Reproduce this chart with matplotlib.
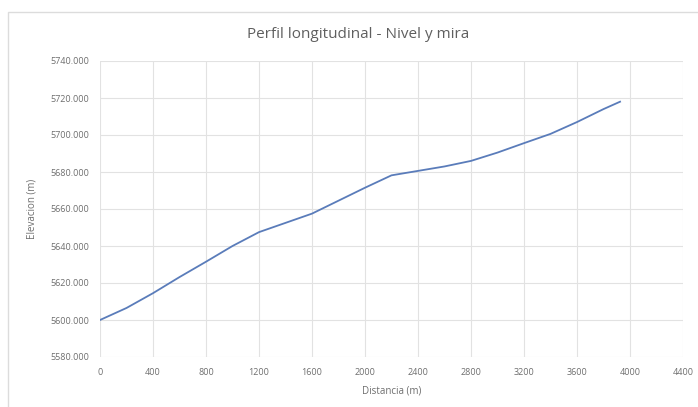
import matplotlib
matplotlib.use("Agg")
import matplotlib.pyplot as plt
from matplotlib.patches import Rectangle
from matplotlib.ticker import FuncFormatter, MultipleLocator

# Longitudinal profile surveyed with level and staff
distancia = [0, 200, 400, 600, 800, 1000, 1200, 1400, 1600, 1800, 2000,
             2200, 2400, 2600, 2800, 3000, 3200, 3400, 3600, 3800, 3925]
elevacion = [5600.0, 5606.5, 5614.5, 5623.2, 5631.5, 5640.0, 5647.5, 5652.5,
             5657.5, 5664.5, 5671.5, 5678.2, 5680.6, 5683.0, 5686.0, 5690.5,
             5695.6, 5700.6, 5707.0, 5714.0, 5718.0]

titulo = "Perfil longitudinal - Nivel y mira"
etiqueta_x = "Distancia (m)"
etiqueta_y = "Elevacion (m)"

plt.rcParams["font.family"] = ["Open Sans", "DejaVu Sans"]
texto = "#6e6e6e"
rejilla = "#e2e2e2"

fig = plt.figure(figsize=(6.98, 4.07), dpi=100)
W, H = 698, 407

# chart frame
fig.patches.append(Rectangle((8 / W, -0.01), 1.0, 1 - 12 / H + 0.01,
                             transform=fig.transFigure, fill=False,
                             edgecolor="#dcdcdc", linewidth=1.0))

ax = fig.add_axes([100 / W, 1 - 357 / H, (683 - 100) / W, (357 - 61) / H])
ax.plot(distancia, elevacion, color="#5a7cba", linewidth=1.3)

ax.set_xlim(0, 4400)
ax.set_ylim(5580, 5740)
ax.xaxis.set_major_locator(MultipleLocator(400))
ax.yaxis.set_major_locator(MultipleLocator(20))
ax.yaxis.set_major_formatter(FuncFormatter(lambda v, p: f"{v:.3f}"))
ax.xaxis.set_major_formatter(FuncFormatter(lambda v, p: f"{v:.0f}"))

ax.grid(True, color=rejilla, linewidth=0.8)
ax.set_axisbelow(True)
for s in ax.spines.values():
    s.set_visible(False)
ax.tick_params(length=0, labelsize=6.5, colors=texto, pad=8)

ax.set_xlabel(etiqueta_x, fontsize=7, color=texto, labelpad=6)
ax.set_ylabel(etiqueta_y, fontsize=7, color=texto, labelpad=9)
fig.text(358 / W, 1 - 35 / H, titulo, ha="center", va="center",
         fontsize=11, color="#5f5f5f")

fig.savefig("out.png", dpi=100)
